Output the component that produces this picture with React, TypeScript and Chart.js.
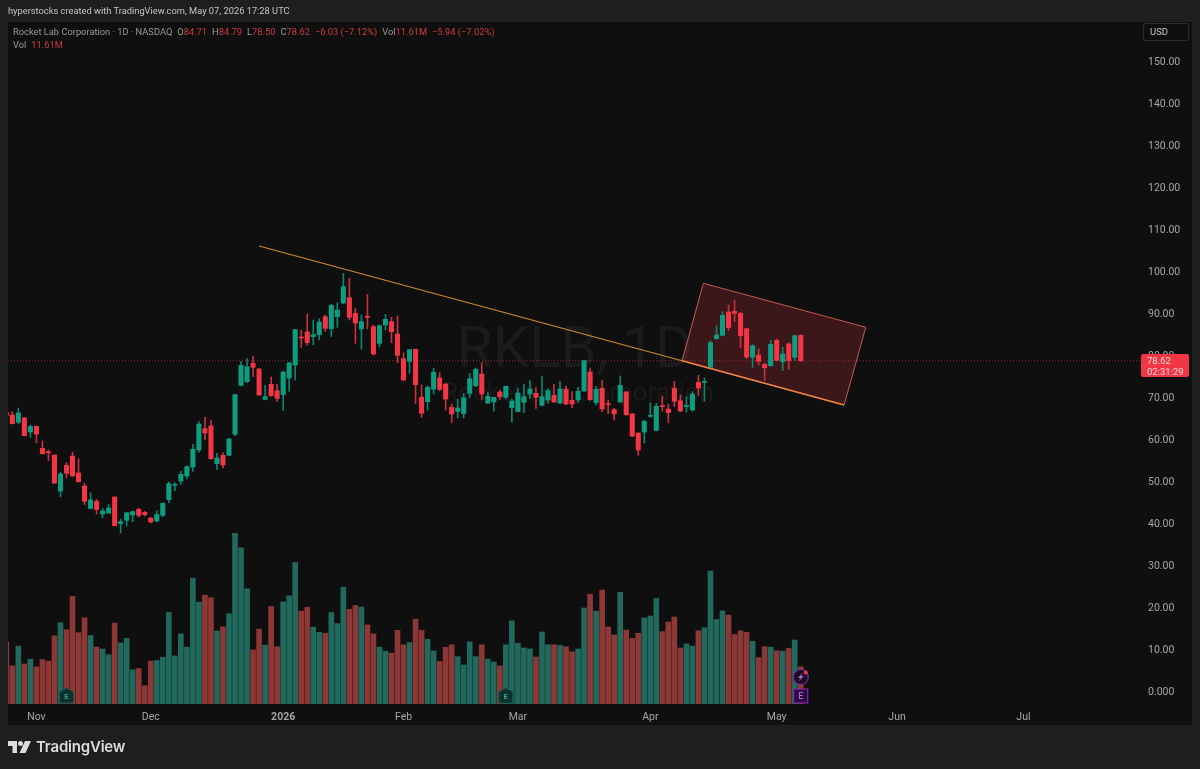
import { useEffect, useRef } from 'react';
import Chart from 'chart.js/auto';

const opens = [
  66.27, 65.72, 63.97, 65.0, 61.67, 63.0, 57.78, 56.99, 56.19, 47.62,
  53.73, 55.95, 51.91, 48.81, 43.49, 45.16, 42.14, 42.38, 46.19, 39.84,
  40.64, 41.91, 43.25, 42.54, 41.19, 40.48, 41.83, 45.56, 48.97, 50.0,
  51.19, 53.33, 57.38, 62.46, 63.1, 54.13, 56.11, 56.11, 61.11, 72.78,
  73.65, 78.02, 76.67, 69.44, 73.02, 71.51, 70.56, 74.52, 77.62, 84.29,
  85.48, 84.37, 84.84, 89.13, 86.27, 89.13, 92.38, 93.65, 89.92, 86.19,
  89.2, 86.75, 82.78, 87.14, 87.94, 85.0, 79.13, 78.49, 81.35, 69.92,
  68.89, 71.83, 74.52, 73.1, 67.54, 66.59, 66.03, 70.87, 72.7, 75.47,
  68.57, 68.81, 71.19, 69.92, 67.46, 66.51, 68.73, 70.71, 70.87, 68.01,
  69.29, 70.4, 68.57, 71.82, 69.2, 69.29, 71.43, 75.95, 68.65, 72.06,
  68.33, 66.98, 68.81, 71.19, 65.95, 61.43, 61.67, 65.4, 62.06, 67.86,
  67.14, 72.06, 69.12, 67.7, 66.9, 73.49, 73.49, 77.06, 83.89, 84.68,
  90.24, 90.4, 89.92, 86.27, 79.45, 80.0, 77.78, 77.46, 83.49, 78.41,
  82.62, 79.45, 84.71,
];
const highs = [
  66.5, 66.51, 67.38, 65.16, 63.33, 63.1, 59.52, 57.38, 56.2, 52.14,
  54.37, 56.9, 55.32, 49.45, 47.2, 45.64, 43.49, 44.45, 46.27, 40.95,
  42.5, 42.86, 43.49, 42.78, 41.27, 42.94, 44.84, 49.76, 49.6, 52.3,
  53.65, 58.73, 64.13, 65.16, 64.53, 56.59, 56.75, 60.16, 70.64, 78.49,
  79.13, 79.68, 76.83, 72.78, 74.76, 73.02, 76.11, 78.25, 86.11, 85.87,
  89.76, 88.33, 88.65, 89.52, 92.06, 92.46, 99.45, 98.25, 91.11, 89.52,
  94.44, 87.14, 87.14, 89.68, 88.97, 89.29, 80.56, 81.35, 81.43, 72.86,
  72.62, 76.83, 75.79, 73.17, 68.33, 69.44, 70.87, 75.63, 76.9, 78.17,
  71.19, 69.92, 71.67, 72.62, 69.44, 71.98, 73.09, 73.89, 72.22, 75.0,
  71.9, 73.01, 73.65, 72.62, 71.27, 72.3, 78.81, 76.9, 72.46, 73.89,
  69.28, 67.3, 75.0, 71.35, 66.11, 61.51, 64.52, 68.65, 68.49, 70.24,
  68.33, 73.73, 70.47, 70.08, 71.27, 75.16, 74.52, 83.41, 86.91, 90.32,
  91.91, 93.1, 90.16, 86.35, 82.46, 81.51, 78.0, 83.49, 83.81, 81.83,
  82.94, 84.68, 84.79,
];
const lows = [
  65.4, 63.57, 63.57, 60.7, 60.4, 59.13, 56.43, 54.84, 49.4, 46.27,
  50.71, 51.1, 49.7, 44.37, 43.33, 42.14, 41.19, 42.3, 39.29, 37.62,
  39.29, 40.32, 41.43, 41.67, 40.0, 40.24, 41.51, 44.84, 47.7, 49.21,
  50.48, 52.3, 56.83, 59.76, 55.16, 52.78, 53.1, 55.95, 60.8, 72.62,
  73.49, 74.84, 70.4, 69.29, 70.16, 68.97, 66.83, 71.35, 74.05, 81.83,
  82.3, 82.46, 83.57, 85.64, 84.37, 86.59, 92.22, 88.33, 82.78, 81.35,
  86.19, 80.0, 81.98, 85.95, 82.94, 78.18, 73.89, 75.64, 68.49, 65.16,
  66.91, 70.71, 71.51, 66.91, 63.89, 65.0, 65.0, 69.92, 72.46, 69.44,
  68.41, 66.66, 69.44, 69.68, 64.05, 66.43, 66.19, 69.68, 67.3, 67.86,
  68.49, 68.65, 68.41, 68.17, 67.46, 68.65, 71.27, 69.2, 68.09, 66.51,
  66.03, 64.52, 68.81, 65.63, 60.55, 56.11, 59.05, 65.16, 61.9, 66.66,
  63.89, 67.7, 66.51, 66.43, 66.59, 70.39, 68.97, 76.9, 83.73, 84.53,
  85.79, 87.94, 81.75, 79.13, 77.06, 77.62, 73.89, 77.3, 78.57, 76.27,
  76.59, 78.65, 78.5,
];
const closes = [
  65.64, 63.65, 66.19, 60.8, 63.0, 61.19, 56.51, 56.75, 49.5, 51.67,
  51.83, 51.19, 49.84, 45.16, 45.48, 43.25, 42.86, 43.57, 39.37, 40.32,
  42.46, 42.7, 41.83, 41.99, 40.24, 41.99, 44.68, 49.37, 49.21, 51.59,
  53.41, 57.54, 63.57, 61.43, 55.32, 55.48, 53.81, 60.0, 70.56, 77.54,
  77.22, 77.06, 70.48, 70.08, 70.32, 69.68, 75.95, 78.1, 86.03, 84.05,
  82.94, 84.84, 87.86, 86.35, 91.83, 90.72, 96.27, 88.97, 87.62, 87.94,
  88.97, 80.24, 86.98, 88.49, 85.56, 79.92, 74.05, 81.27, 72.94, 66.13,
  72.3, 75.87, 71.83, 69.52, 65.95, 67.38, 69.84, 74.36, 76.59, 70.71,
  70.16, 69.92, 70.08, 72.54, 69.05, 70.95, 70.08, 71.9, 69.92, 70.08,
  71.51, 68.81, 71.9, 68.33, 68.33, 71.35, 78.65, 69.36, 71.82, 67.14,
  68.17, 65.95, 72.78, 65.79, 60.71, 57.38, 64.21, 65.63, 67.78, 67.7,
  66.27, 68.97, 66.66, 68.01, 70.71, 72.14, 73.73, 82.94, 84.76, 89.45,
  86.51, 89.92, 84.6, 79.52, 82.22, 78.49, 76.99, 82.54, 78.73, 80.24,
  78.65, 84.6, 78.62,
];
const volumes = [
  19.4, 11.9, 18.1, 12.5, 14.0, 11.6, 13.9, 13.4, 21.3, 25.4,
  23.2, 33.6, 22.3, 26.9, 21.4, 17.8, 17.2, 15.4, 25.3, 19.1,
  20.5, 10.7, 11.1, 5.7, 13.4, 13.6, 14.6, 28.6, 15.0, 21.9,
  17.8, 39.3, 31.8, 34.0, 33.2, 22.8, 24.1, 28.2, 53.3, 48.8,
  36.0, 16.9, 23.4, 18.4, 30.5, 17.9, 31.9, 33.8, 44.2, 29.0,
  30.2, 24.0, 22.4, 22.1, 28.6, 25.1, 36.5, 29.6, 30.8, 30.3,
  24.7, 21.9, 17.8, 16.5, 15.9, 23.0, 18.5, 19.2, 26.5, 23.0,
  20.2, 16.6, 13.3, 17.7, 18.5, 14.8, 12.2, 19.4, 14.8, 18.5,
  14.0, 13.1, 11.9, 18.5, 26.0, 19.0, 17.5, 17.2, 14.7, 22.5,
  18.5, 18.5, 18.3, 17.9, 16.3, 17.2, 30.0, 34.3, 29.0, 35.6,
  24.1, 21.6, 34.9, 23.1, 20.5, 22.1, 26.9, 27.5, 33.0, 22.6,
  25.6, 27.2, 17.5, 18.8, 18.1, 22.9, 23.8, 41.5, 26.4, 29.1,
  27.8, 21.7, 22.9, 22.4, 19.6, 14.5, 17.9, 17.8, 16.6, 16.5,
  17.4, 20.0, 11.61,
];

const priceTicks = [0, 10, 20, 30, 40, 50, 60, 70, 80, 90, 100, 110, 120, 130, 140, 150];
const timePositions = [5, 24, 46, 66, 85, 107, 128, 148, 169];
const timeLabels = ['Nov', 'Dec', '2026', 'Feb', 'Mar', 'Apr', 'May', 'Jun', 'Jul'];
const earningsBars = [10, 83];
const lastBar = 132;
const lastClose = 78.62;

// drawings, in bar index / price
const trendLine = [{ x: 42, y: 105.95 }, { x: 112.28, y: 78.64 }];
const channel = [
  { x: 115.82, y: 97.07 },
  { x: 142.8, y: 86.6 },
  { x: 139.2, y: 68.1 },
  { x: 112.28, y: 78.64 },
  { x: 115.82, y: 97.07 },
];
const channelBottom = [{ x: 112.28, y: 78.64 }, { x: 139.2, y: 68.1 }];

const UP = '#0f9d82';
const DOWN = '#f23645';
const WICK_UP = '#0c8570';
const WICK_DOWN = '#c9313e';
const VOL_UP = '#21685d';
const VOL_DOWN = '#8c3836';
const FONT = 'Roboto, "Liberation Sans", sans-serif';

const xMin = 0.28;
const xMax = 188.7;

const isUp = (i: number) => closes[i] >= opens[i];
const barColors = (up: string, down: string) => closes.map((_, i) => (isUp(i) ? up : down));

const overlayPlugin = {
  id: 'overlay',
  beforeDatasetsDraw(chart: any) {
    const { ctx } = chart;
    ctx.save();
    ctx.textAlign = 'center';
    ctx.textBaseline = 'alphabetic';
    ctx.fillStyle = '#1b1b1b';
    ctx.font = `400 58px ${FONT}`;
    ctx.fillText('RKLB, 1D', 575, 367);
    ctx.fillStyle = '#1a1a1a';
    ctx.font = `400 26px ${FONT}`;
    ctx.fillText('Rocket Lab Corporation', 578, 401);
    ctx.restore();
  },
  afterDatasetsDraw(chart: any) {
    const { ctx, scales } = chart;
    ctx.save();
    ctx.textAlign = 'center';
    ctx.textBaseline = 'middle';
    earningsBars.forEach((bar) => {
      const x = scales.x.getPixelForValue(bar);
      ctx.beginPath();
      ctx.moveTo(x, 688);
      ctx.lineTo(x + 7, 692);
      ctx.lineTo(x + 7, 703);
      ctx.lineTo(x - 7, 703);
      ctx.lineTo(x - 7, 692);
      ctx.closePath();
      ctx.fillStyle = '#0e2f2b';
      ctx.fill();
      ctx.strokeStyle = '#155a50';
      ctx.lineWidth = 1;
      ctx.stroke();
      ctx.fillStyle = '#35a08e';
      ctx.font = `700 8px ${FONT}`;
      ctx.fillText('E', x, 696.5);
    });

    const x = scales.x.getPixelForValue(lastBar);
    ctx.beginPath();
    ctx.arc(x, 677, 7.5, 0, Math.PI * 2);
    ctx.fillStyle = '#1c0d26';
    ctx.fill();
    ctx.strokeStyle = '#7e2a9e';
    ctx.lineWidth = 1.2;
    ctx.stroke();
    ctx.beginPath();
    ctx.moveTo(x + 2, 672.5);
    ctx.lineTo(x - 3, 678);
    ctx.lineTo(x - 0.3, 678);
    ctx.lineTo(x - 2, 681.5);
    ctx.lineTo(x + 3, 676);
    ctx.lineTo(x + 0.3, 676);
    ctx.closePath();
    ctx.fillStyle = '#a868c4';
    ctx.fill();
    ctx.beginPath();
    ctx.arc(x + 5, 672.5, 2, 0, Math.PI * 2);
    ctx.fillStyle = DOWN;
    ctx.fill();

    ctx.fillStyle = '#260c38';
    ctx.fillRect(x - 7, 689, 14, 14);
    ctx.strokeStyle = '#8a22b8';
    ctx.lineWidth = 1.2;
    ctx.strokeRect(x - 7, 689, 14, 14);
    ctx.fillStyle = '#b65cd8';
    ctx.font = `600 9px ${FONT}`;
    ctx.fillText('E', x, 696.5);
    ctx.restore();
  },
};

function CandleChart() {
  const canvasRef = useRef<HTMLCanvasElement>(null);

  useEffect(() => {
    if (!canvasRef.current) return;
    const index = closes.map((_, i) => i);

    const chart = new Chart(canvasRef.current, {
      type: 'bar',
      data: {
        datasets: [
          {
            type: 'line',
            data: channel,
            yAxisID: 'y',
            order: 6,
            fill: 'shape',
            backgroundColor: 'rgba(242, 54, 69, 0.2)',
            borderColor: '#c9574f',
            borderWidth: 1,
            pointRadius: 0,
            tension: 0,
          },
          {
            data: index.map((i) => ({ x: i, y: volumes[i] })),
            yAxisID: 'vol',
            order: 5,
            grouped: false,
            barThickness: 5,
            backgroundColor: barColors(VOL_UP, VOL_DOWN),
          },
          {
            type: 'line',
            data: [{ x: xMin, y: lastClose }, { x: xMax, y: lastClose }],
            yAxisID: 'y',
            order: 4,
            borderColor: '#8f3038',
            borderWidth: 1,
            borderDash: [1, 2],
            pointRadius: 0,
          },
          {
            data: index.map((i) => ({ x: i, y: [lows[i], highs[i]] })),
            yAxisID: 'y',
            order: 3,
            grouped: false,
            barThickness: 1,
            backgroundColor: barColors(WICK_UP, WICK_DOWN),
          },
          {
            data: index.map((i) => ({ x: i, y: [opens[i], closes[i]] })),
            yAxisID: 'y',
            order: 2,
            grouped: false,
            barThickness: 4.4,
            minBarLength: 1,
            backgroundColor: barColors(UP, DOWN),
          },
          {
            type: 'line',
            data: trendLine,
            yAxisID: 'y',
            order: 1,
            borderColor: '#d08a2e',
            borderWidth: 1.2,
            pointRadius: 0,
          },
          {
            type: 'line',
            data: channelBottom,
            yAxisID: 'y',
            order: 0,
            borderColor: '#ee8440',
            borderWidth: 1.6,
            pointRadius: 0,
          },
        ] as any,
      },
      options: {
        responsive: false,
        animation: false,
        layout: { padding: { left: 8, top: 22, right: 8, bottom: 44 } },
        plugins: { legend: { display: false }, tooltip: { enabled: false } },
        scales: {
          x: {
            type: 'linear',
            offset: false,
            min: xMin,
            max: xMax,
            grid: { display: false, drawTicks: false },
            border: { display: false },
            afterBuildTicks: (axis: any) => {
              axis.ticks = timePositions.map((value) => ({ value }));
            },
            afterFit: (axis: any) => {
              axis.height = 21;
            },
            ticks: {
              autoSkip: false,
              maxRotation: 0,
              padding: 7,
              color: '#a6a6a6',
              font: (ctx: any) => ({
                family: FONT,
                size: 10.5,
                weight: ctx.tick?.value === 46 ? 'bold' : 'normal',
              }),
              callback: (value: any) => timeLabels[timePositions.indexOf(Number(value))] ?? '',
            },
          },
          y: {
            position: 'right',
            min: -3.095,
            max: 159.29,
            grid: { display: false, drawTicks: false },
            border: { display: false },
            afterBuildTicks: (axis: any) => {
              axis.ticks = priceTicks.map((value) => ({ value }));
            },
            afterFit: (axis: any) => {
              axis.width = 50;
            },
            ticks: {
              padding: 6,
              labelOffset: 1,
              color: '#a6a6a6',
              font: { family: FONT, size: 10.5 },
              callback: (value: any) => (Number(value) === 0 ? '0.000' : Number(value).toFixed(2)),
            },
          },
          vol: { display: false, min: 0, max: 213.1 },
        },
      } as any,
      plugins: [overlayPlugin],
    });

    return () => chart.destroy();
  }, []);

  return (
    <canvas
      ref={canvasRef}
      width={1200}
      height={769}
      style={{ position: 'absolute', left: 0, top: 0, display: 'block' }}
    />
  );
}

const legendRow = { position: 'absolute', left: 13, display: 'flex', whiteSpace: 'nowrap', fontSize: 9.3, lineHeight: '13px' } as const;
const red = { color: '#cf3a41' };

export default function App() {
  return (
    <div style={{ position: 'relative', width: 1200, height: 769, overflow: 'hidden', background: '#1e1e1e', fontFamily: FONT }}>
      <style>{'body{margin:0}'}</style>
      <div style={{ position: 'absolute', left: 8, top: 22, width: 1184, height: 703, background: '#0f0f0f' }} />
      <CandleChart />

      <div style={{ position: 'absolute', left: 8, top: 4, fontSize: 9.3, lineHeight: '14px', color: '#c4c4c4', whiteSpace: 'nowrap' }}>
        hyperstocks created with TradingView.com, May 07, 2026 17:28 UTC
      </div>

      <div style={{ ...legendRow, top: 25, color: '#9a9a9a', gap: 5 }}>
        <span>Rocket Lab Corporation · 1D · NASDAQ</span>
        <span>O<span style={red}>84.71</span></span>
        <span>H<span style={red}>84.79</span></span>
        <span>L<span style={red}>78.50</span></span>
        <span>C<span style={red}>78.62</span></span>
        <span style={red}>−6.03 (−7.12%)</span>
        <span>Vol<span style={red}>11.61M</span></span>
        <span style={red}>−5.94 (−7.02%)</span>
      </div>
      <div style={{ ...legendRow, top: 38, color: '#9a9a9a', gap: 5 }}>
        <span>Vol</span>
        <span style={red}>11.61M</span>
      </div>

      <div style={{ position: 'absolute', left: 1143, top: 23, width: 46, height: 18, border: '1px solid #2e2e2e', borderRadius: 3, boxSizing: 'border-box', color: '#c4c4c4', fontSize: 9.5, lineHeight: '16px', paddingLeft: 6 }}>
        USD
      </div>

      <div style={{ position: 'absolute', left: 1141, top: 354, width: 48, height: 23, background: DOWN, borderRadius: 2, color: '#f6d9db', fontSize: 9.5, lineHeight: '11px', paddingLeft: 6, paddingTop: 1, boxSizing: 'border-box' }}>
        <div>78.62</div>
        <div>02:31:29</div>
      </div>

      <svg width="24" height="14" viewBox="0 0 24 14" style={{ position: 'absolute', left: 8, top: 740 }}>
        <path d="M0 1 H9 V13 H4.5 V6 H0 Z" fill="#dcdcdc" />
        <circle cx="12.5" cy="3.6" r="2.5" fill="#dcdcdc" />
        <path d="M17 1 H23 L17.5 13 H11.5 Z" fill="#dcdcdc" />
      </svg>
      <div style={{ position: 'absolute', left: 36, top: 737, fontFamily: 'Inter, sans-serif', fontSize: 15, fontWeight: 600, lineHeight: '20px', color: '#dcdcdc', letterSpacing: -0.2 }}>
        TradingView
      </div>
    </div>
  );
}
